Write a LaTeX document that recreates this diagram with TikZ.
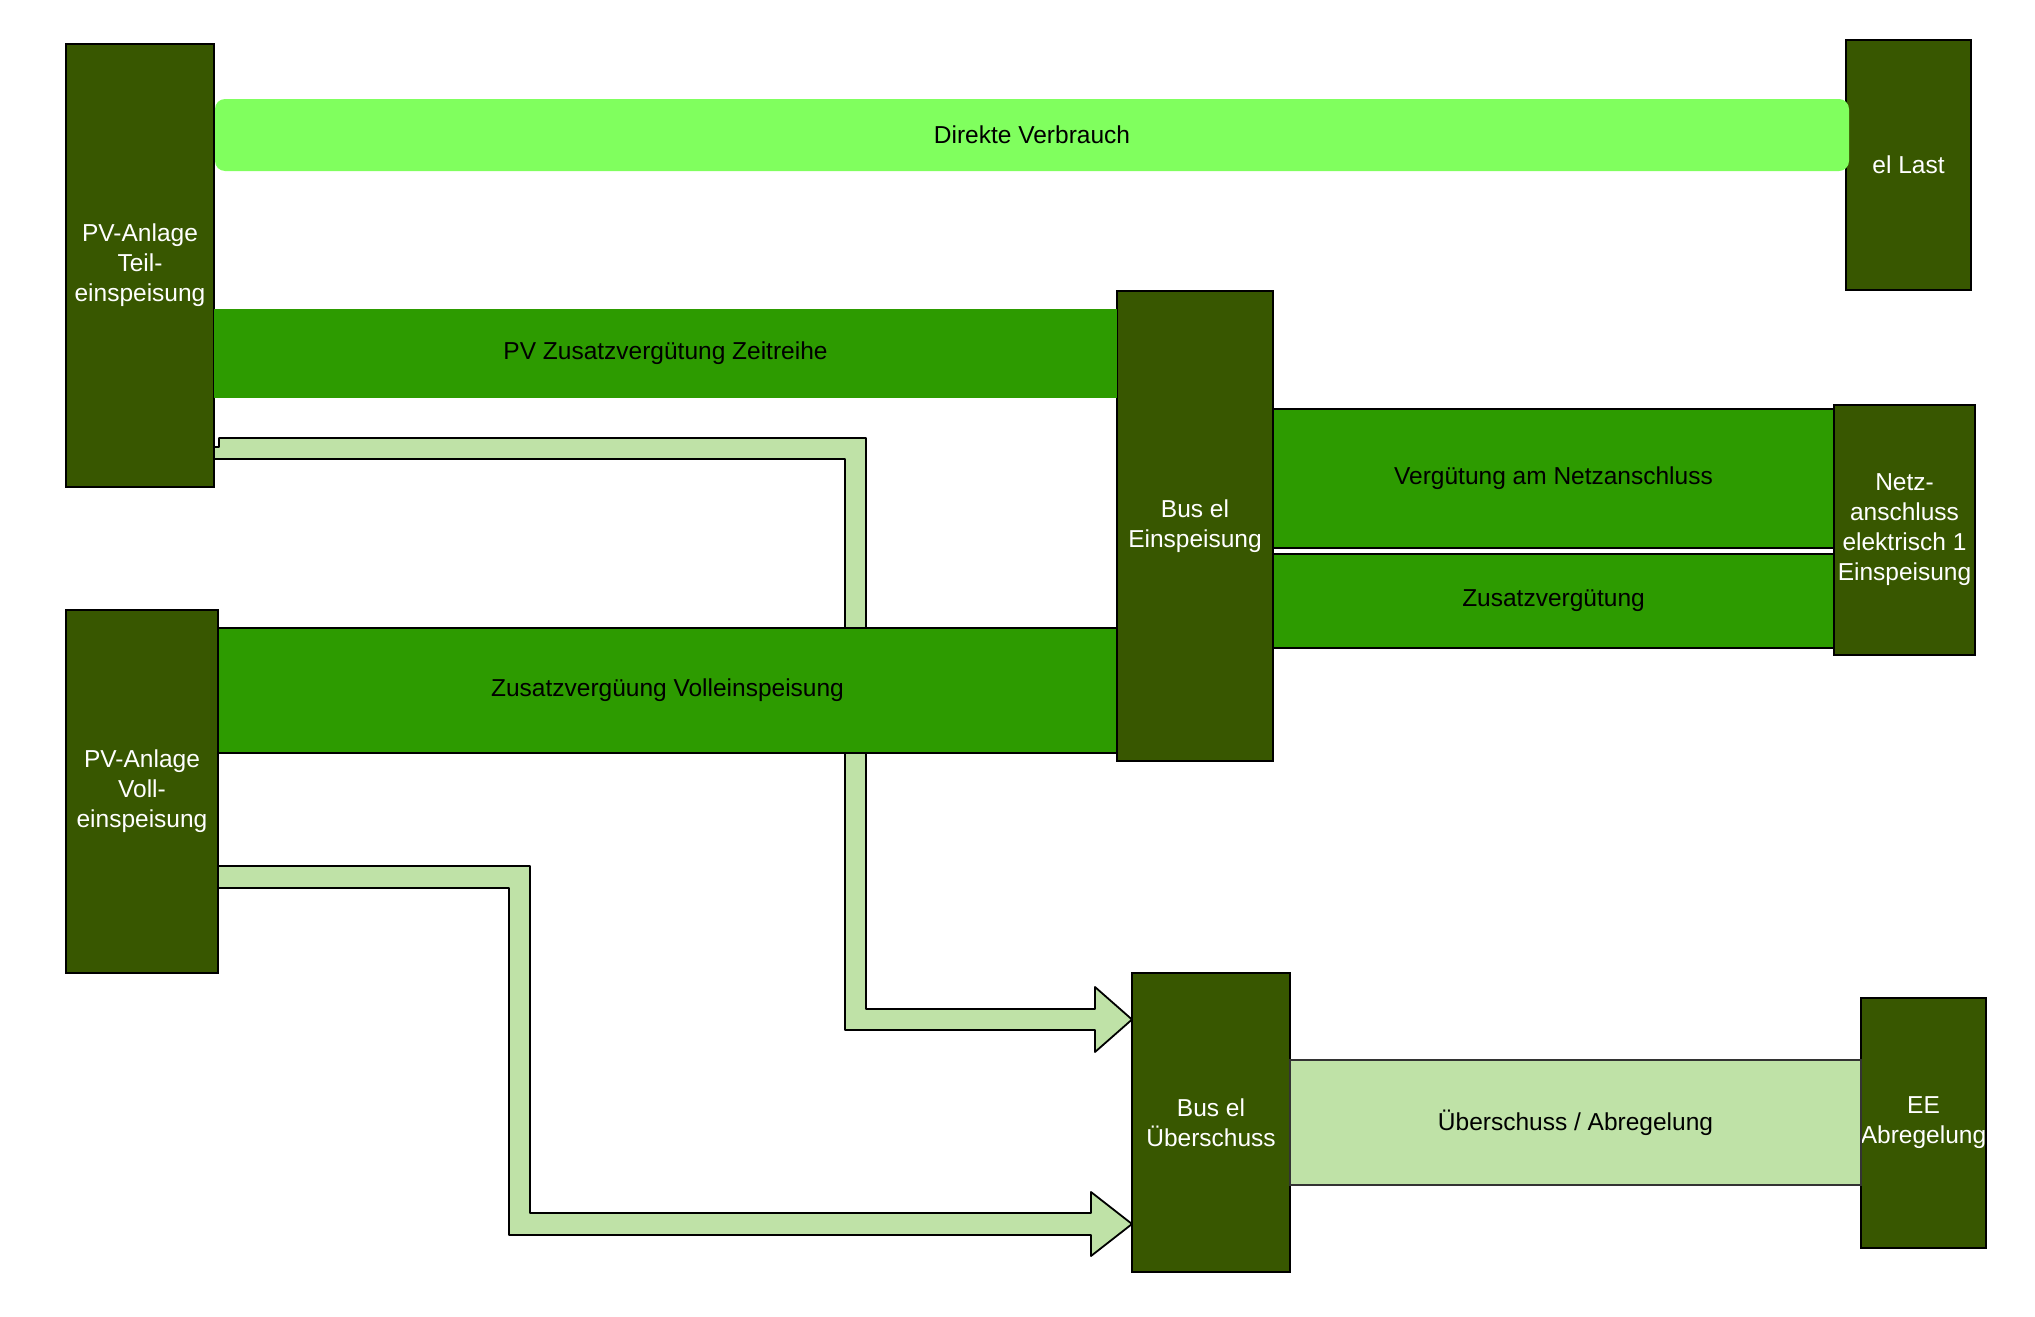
\documentclass[tikz,border=0pt]{standalone}
\usepackage{fontspec}
\setmainfont{Liberation Sans}
\usetikzlibrary{backgrounds}

\definecolor{busgreen}{RGB}{56,87,0}
\definecolor{flowgreen}{RGB}{45,155,0}
\definecolor{directgreen}{RGB}{128,255,94}
\definecolor{surplusgreen}{RGB}{191,226,167}

\begin{document}
\begin{tikzpicture}[x=1pt, y=-1pt,
  every node/.style={font=\fontsize{24.5}{30}\selectfont, align=center, inner sep=0pt, outer sep=0pt},
  bus/.style={draw=black, line width=1.5pt, fill=busgreen, text=white},
  flowband/.style={draw=black, line width=1.8pt, fill=flowgreen},
  surplusarrow/.style={draw=black, line width=1.8pt, line join=round, fill=surplusgreen}]
\useasboundingbox (0,0) rectangle (2035,1317);

\node[bus, minimum width=148pt, minimum height=443pt] (teil) at (140,265.5) {PV-Anlage\\Teil-\\einspeisung};
\node[bus, minimum width=152pt, minimum height=363pt] (voll) at (142,791.5) {PV-Anlage\\Voll-\\einspeisung};
\node[bus, minimum width=125pt, minimum height=250pt] (last) at (1908.5,165) {el Last};
\node[bus, minimum width=156pt, minimum height=470pt] (einsp) at (1195,526) {Bus el\\Einspeisung};
\node[bus, minimum width=141pt, minimum height=250pt] (netz) at (1904.5,530) {Netz-\\anschluss\\elektrisch 1\\Einspeisung};
\node[bus, minimum width=158pt, minimum height=299pt] (ueber) at (1211,1122.5) {Bus el\\Überschuss};
\node[bus, minimum width=125pt, minimum height=250pt] (ee) at (1923.5,1123) {EE\\Abregelung};

\node[fill=directgreen, rounded corners=10pt, minimum width=1634pt, minimum height=72pt] (direkt) at (1032,135) {Direkte Verbrauch};
\node[fill=flowgreen, minimum width=903pt, minimum height=89pt] (zeitreihe) at (665.5,353.5) {PV Zusatzvergütung Zeitreihe};
\node[flowband, minimum width=899pt, minimum height=125pt] (vollband) at (667.5,690.5) {Zusatzvergüung Volleinspeisung};
\node[flowband, minimum width=561pt, minimum height=139pt] (netzverg) at (1553.5,478.5) {Vergütung am Netzanschluss};
\node[flowband, minimum width=561pt, minimum height=94pt] (zusatz) at (1553.5,601) {Zusatzvergütung};
\node[fill=surplusgreen, draw=black!80, line width=1.8pt, minimum width=571pt, minimum height=125pt] (abreg) at (1575.5,1122.5) {Überschuss / Abregelung};

\begin{pgfonlayer}{background}
\draw[surplusarrow] (teil.east |- 0,447) -- (219,447) -- (219,438) -- (866,438) -- (866,1009) -- (1095,1009) -- (1095,987)
  -- (ueber.west |- 0,1019.5) -- (1095,1052) -- (1095,1030) -- (845,1030) -- (845,459) -- (teil.east |- 0,459) -- cycle;
\draw[surplusarrow] (voll.east |- 0,866) -- (530,866) -- (530,1213) -- (1091,1213) -- (1091,1192)
  -- (ueber.west |- 0,1224) -- (1091,1256) -- (1091,1235) -- (509,1235) -- (509,888) -- (voll.east |- 0,888) -- cycle;
\end{pgfonlayer}
\end{tikzpicture}
\end{document}
